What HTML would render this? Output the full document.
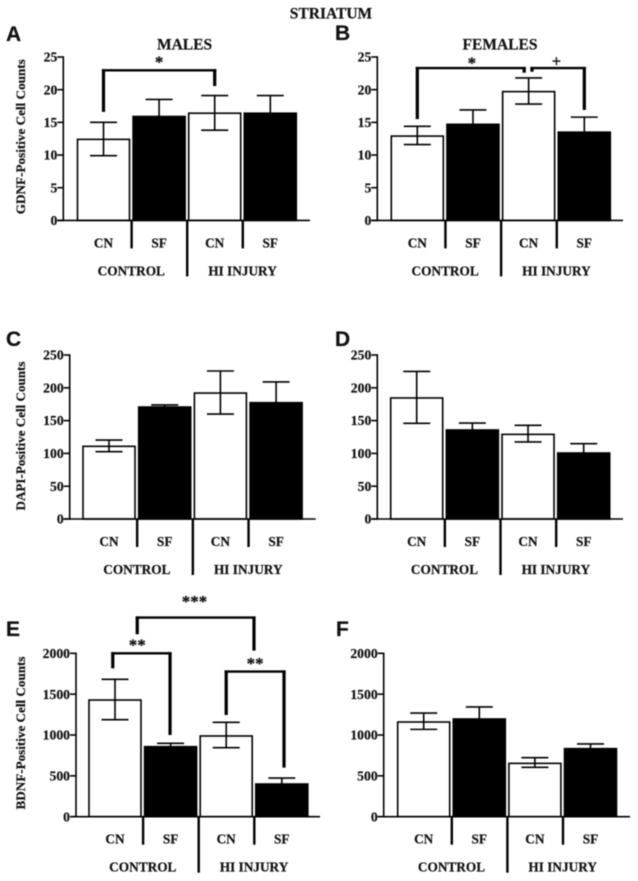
<!DOCTYPE html>
<html>
<head>
<meta charset="utf-8">
<title>Striatum cell counts</title>
<style>
html,body{margin:0;padding:0;background:#fff;}
svg{display:block;filter:blur(0.4px);}
text{font-family:"Liberation Serif",serif;font-weight:bold;fill:#111;stroke:#111;stroke-width:0.2px;}
.letter{font-family:"Liberation Sans",sans-serif;font-size:21px;}
</style>
</head>
<body>
<svg id="chart" width="638" height="881" viewBox="0 0 638 881" xmlns="http://www.w3.org/2000/svg"></svg>
<script>
const categories = ['CN', 'SF', 'CN', 'SF'];
const groups = ['CONTROL', 'HI INJURY'];
const ticksSmall = [0, 5, 10, 15, 20, 25];
const ticksDapi = [0, 50, 100, 150, 200, 250];
const ticksBdnf = [0, 500, 1000, 1500, 2000];

const meansA = [12.4, 15.9, 16.4, 16.4];
const upperA = [15.0, 18.5, 19.1, 19.1];
const lowerA = [9.9, 13.3, 13.8, 13.7];

const meansB = [12.9, 14.7, 19.7, 13.5];
const upperB = [14.4, 16.9, 21.8, 15.8];
const lowerB = [11.6, 12.5, 17.8, 11.3];

const meansC = [110.8, 170.7, 192, 177.3];
const upperC = [120.4, 173.8, 225.6, 209];
const lowerC = [102.6, 167.6, 160, 145.6];

const meansD = [184.5, 135.7, 129, 100.6];
const upperD = [225, 146.3, 142.8, 114.8];
const lowerD = [145.8, 125.1, 117.4, 86.4];

const meansE = [1428, 857, 988, 400];
const upperE = [1682, 898, 1155, 473];
const lowerE = [1188, 816, 845, 327];

const meansF = [1159, 1196, 653, 833];
const upperF = [1269, 1343, 722, 890];
const lowerF = [1069, 1049, 604, 776];

// Significance brackets: bar index (from, to) and value-axis heights (top, fromEnd, toEnd)
const bracketFromA = [0];
const bracketToA = [2];
const bracketTopA = [22.96];
const bracketFromEndA = [16.6];
const bracketToEndA = [20.56];

const bracketFromB = [0, 2.06];
const bracketToB = [1.92, 3];
const bracketTopB = [23.3, 23.3];
const bracketFromEndB = [15.5, 22.75];
const bracketToEndB = [22.6, 16.9];

const bracketFromE = [-0.04, 2, 0.4];
const bracketToE = [0.99, 3.04, 2.5];
const bracketTopE = [2000, 1776, 2437];
const bracketFromEndE = [1816, 1245, 2233];
const bracketToEndE = [1000, 600, 2033];

// Significance marks: text, bar index, value-axis height
const markTextA = ['*'];
const markBarA = [1];
const markValueA = [24.6];

const markTextB = ['*', '+'];
const markBarB = [0.98, 2.5];
const markValueB = [24.5, 24.3];

const markTextE = ['**', '**', '***'];
const markBarE = [0.4, 2.52, 1.43];
const markValueE = [2135, 1906, 2665];

const svg = document.getElementById('chart');
const NS = 'http://www.w3.org/2000/svg';

function make(tag, attrs, parent) {
  const el = document.createElementNS(NS, tag);
  for (const k in attrs) el.setAttribute(k, attrs[k]);
  (parent || svg).appendChild(el);
  return el;
}

function drawLabel(parent, content, x, y, size, anchor, name) {
  const el = make('text', { x: x, y: y, 'font-size': size, 'text-anchor': anchor }, parent);
  el.textContent = content;
  
  
  return el;
}

function drawPanel(p) {
  const g = make('g', {});
  
  

  const yScale = v => p.y0 - (v / p.max) * (p.y0 - p.yTop);
  const xScale = i => p.c0 + i * p.step;

  // panel letter
  const letter = make('text', { x: p.letterX, y: p.letterY, class: 'letter' }, g);
  letter.textContent = p.id.toUpperCase();
  
  

  // bars
  p.means.forEach((v, i) => {
    const black = i % 2 === 1;
    const top = yScale(v);
    const bar = make('rect', {
      x: xScale(i) - 26,
      y: top,
      width: 52,
      height: p.y0 - top,
      fill: black ? '#000' : '#fff',
      stroke: '#000',
      'stroke-width': 1.6
    }, g);
    
    
  });

  // error bars
  p.means.forEach((v, i) => {
    const cx = xScale(i);
    const hi = yScale(p.upper[i]);
    const lo = yScale(p.lower[i]);
    const err = make('path', {
      d: 'M' + (cx - 13.5) + ' ' + hi + 'H' + (cx + 13.5) +
         'M' + cx + ' ' + hi + 'V' + lo +
         'M' + (cx - 13.5) + ' ' + lo + 'H' + (cx + 13.5),
      fill: 'none',
      stroke: '#000',
      'stroke-width': 1.6
    }, g);
    
    
  });

  // y axis
  const yAxis = make('line', { x1: p.axisX, x2: p.axisX, y1: p.yTop - 0.8, y2: p.y0 + 0.8, stroke: '#000', 'stroke-width': 1.6 }, g);
  
  

  // x axis
  const xAxis = make('line', { x1: p.axisX - 6, x2: p.xEnd, y1: p.y0, y2: p.y0, stroke: '#000', 'stroke-width': 1.6 }, g);
  
  

  // ticks
  p.ticks.forEach(t => {
    const y = yScale(t);
    const tick = make('line', { x1: p.axisX - 6, x2: p.axisX, y1: y, y2: y, stroke: '#000', 'stroke-width': 1.6 }, g);
    
    
    drawLabel(g, String(t), p.axisX - 6, y + 4.6, 13.7, 'end', 'y-tick-label-' + p.id + '-' + t);
  });

  // y axis title
  if (p.title) {
    const title = make('text', {
      'font-size': 12.6,
      'text-anchor': 'middle',
      textLength: p.titleLen,
      lengthAdjust: 'spacingAndGlyphs',
      transform: 'translate(25 ' + p.titleY + ') rotate(-90)'
    }, g);
    title.textContent = p.title;
    
    
  }

  // group separators
  [0.5, 1.5, 2.5].forEach((s, i) => {
    const sx = xScale(s) + 0.3;
    const long = i === 1;
    const sep = make('line', { x1: sx, x2: sx, y1: p.y0, y2: long ? p.y0 + 56 : p.y0 + 28, stroke: '#000', 'stroke-width': 2.4 }, g);
    
    
  });

  // category + group labels
  categories.forEach((c, i) => {
    drawLabel(g, c, xScale(i), p.y0 + p.catDy, 13.3, 'middle', 'category-label-' + p.id + '-' + i);
  });
  groups.forEach((c, i) => {
    drawLabel(g, c, xScale(i * 2 + 0.5), p.y0 + p.groupDy, 13.3, 'middle', 'group-label-' + p.id + '-' + i);
  });

  // brackets
  if (p.br) {
    p.br.from.forEach((f, i) => {
      const xa = xScale(f), xb = xScale(p.br.to[i]);
      const yt = yScale(p.br.top[i]);
      const b = make('g', {}, g);
      
      
      make('path', { d: 'M' + (xa - 1.6) + ' ' + yt + 'H' + (xb + 1.6), stroke: '#000', 'stroke-width': 2.4, fill: 'none' }, b);
      make('path', { d: 'M' + xa + ' ' + (yt - 1.2) + 'V' + yScale(p.br.fromEnd[i]), stroke: '#000', 'stroke-width': 3.2, fill: 'none' }, b);
      make('path', { d: 'M' + xb + ' ' + (yt - 1.2) + 'V' + yScale(p.br.toEnd[i]), stroke: '#000', 'stroke-width': 3.2, fill: 'none' }, b);
    });
  }

  // significance marks
  if (p.marks) {
    p.marks.text.forEach((t, i) => {
      const isPlus = t === '+';
      const el = drawLabel(g, t, xScale(p.marks.bar[i]), yScale(p.marks.value[i]) + (isPlus ? 5 : 8), isPlus ? 16 : 17, 'middle', 'significance-mark-' + p.id + '-' + i);
      if (isPlus) el.setAttribute('style', 'font-family:"Liberation Sans",sans-serif;font-weight:normal');
    });
  }
}

drawPanel({ id: 'a', means: meansA, upper: upperA, lower: lowerA, ticks: ticksSmall, max: 25,
  axisX: 63.3, xEnd: 310, y0: 220.4, yTop: 57, c0: 103.5, step: 55.6, catDy: 27, groupDy: 55,
  letterX: 6, letterY: 41, title: 'GDNF-Positive Cell Counts', titleY: 136.7, titleLen: 155,
  br: { from: bracketFromA, to: bracketToA, top: bracketTopA, fromEnd: bracketFromEndA, toEnd: bracketToEndA },
  marks: { text: markTextA, bar: markBarA, value: markValueA } });

drawPanel({ id: 'b', means: meansB, upper: upperB, lower: lowerB, ticks: ticksSmall, max: 25,
  axisX: 377.3, xEnd: 623, y0: 220.4, yTop: 57, c0: 417.3, step: 55.67, catDy: 27, groupDy: 55,
  letterX: 335, letterY: 40,
  br: { from: bracketFromB, to: bracketToB, top: bracketTopB, fromEnd: bracketFromEndB, toEnd: bracketToEndB },
  marks: { text: markTextB, bar: markBarB, value: markValueB } });

drawPanel({ id: 'c', means: meansC, upper: upperC, lower: lowerC, ticks: ticksDapi, max: 250,
  axisX: 69.7, xEnd: 315.7, y0: 519, yTop: 355, c0: 109, step: 55.7, catDy: 27, groupDy: 55,
  letterX: 6, letterY: 346, title: 'DAPI-Positive Cell Counts', titleY: 436, titleLen: 149 });

drawPanel({ id: 'd', means: meansD, upper: upperD, lower: lowerD, ticks: ticksDapi, max: 250,
  axisX: 377.3, xEnd: 623, y0: 519, yTop: 355, c0: 416.7, step: 55.67, catDy: 27, groupDy: 55,
  letterX: 335, letterY: 346 });

drawPanel({ id: 'e', means: meansE, upper: upperE, lower: lowerE, ticks: ticksBdnf, max: 2000,
  axisX: 76, xEnd: 320, y0: 816.7, yTop: 653.3, c0: 115, step: 55.6, catDy: 27, groupDy: 55,
  letterX: 6, letterY: 636, title: 'BDNF-Positive Cell Counts', titleY: 733, titleLen: 153,
  br: { from: bracketFromE, to: bracketToE, top: bracketTopE, fromEnd: bracketFromEndE, toEnd: bracketToEndE },
  marks: { text: markTextE, bar: markBarE, value: markValueE } });

drawPanel({ id: 'f', means: meansF, upper: upperF, lower: lowerF, ticks: ticksBdnf, max: 2000,
  axisX: 383.7, xEnd: 630, y0: 816.7, yTop: 653.3, c0: 423.7, step: 55.6, catDy: 27, groupDy: 55,
  letterX: 336, letterY: 636 });

drawLabel(svg, 'STRIATUM', 331, 18.5, 15.5, 'middle', 'figure-title');
drawLabel(svg, 'MALES', 184.5, 49.5, 15.5, 'middle', 'males-title');
drawLabel(svg, 'FEMALES', 500, 49.5, 15.5, 'middle', 'females-title');
</script>
</body>
</html>
